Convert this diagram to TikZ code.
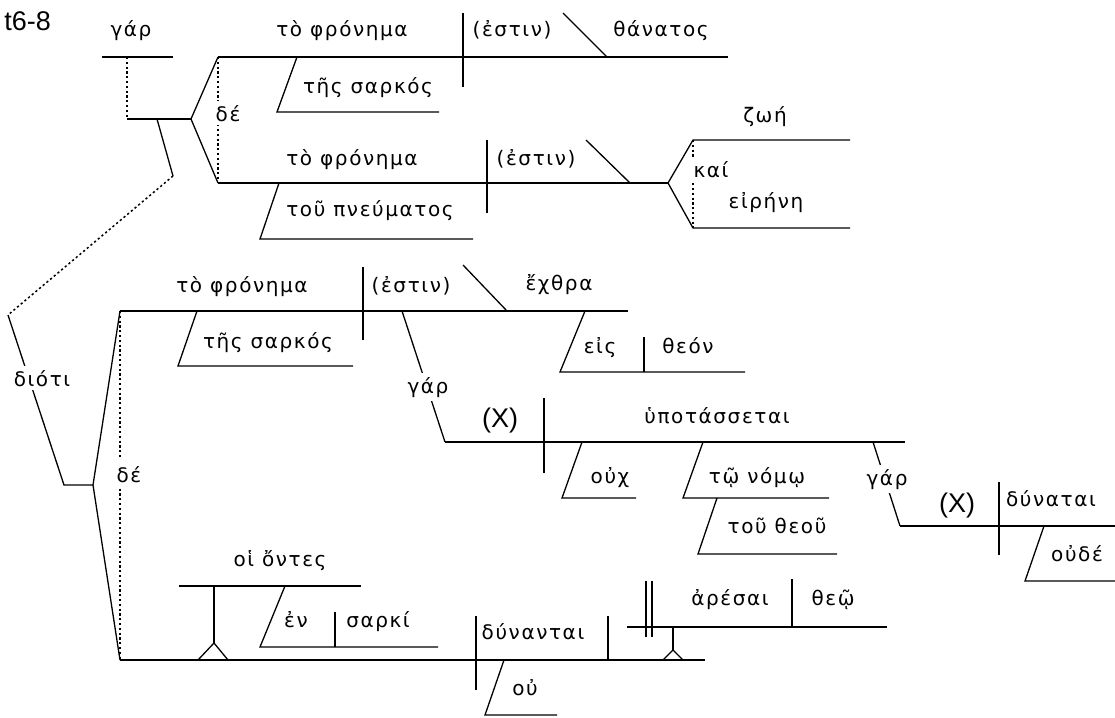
\documentclass[tikz,border=0pt]{standalone}
\usepackage{fontspec}
\setmainfont{DejaVu Sans}
\newfontfamily\gkf[LetterSpace=8]{DejaVu Sans}
\newfontfamily\arialf{Liberation Sans}
\begin{document}
\begin{tikzpicture}[x=1pt,y=-1pt,
  ln/.style={line width=1.3pt},
  dt/.style={line width=1.5pt, dash pattern=on 2.2pt off 2.6pt},
  gk/.style={font=\gkf\fontsize{20}{24}\selectfont, anchor=base, inner sep=0pt},
  lab/.style={gk, fill=white, inner sep=4pt},
  xx/.style={font=\arialf\fontsize{27}{30}\selectfont, anchor=base, inner sep=0pt}]
\useasboundingbox (0,0) rectangle (1115,717);
\node[xx, anchor=base east] (ref) at (51,31) {t6-8};

% ---------- top: gar + compound (de) ----------
\draw[ln] (102,57) -- (173,57);
\draw[dt] (127,57) -- (127,119);
\draw[ln] (127,119) coordinate (gj) -- (191,119) coordinate (dj);
\draw[ln] (218,57) coordinate (c1) -- (dj) -- (218,183) coordinate (c2);
\draw[dt] (c1) -- (c2);
\node[lab] (de1) at (228,121) {δέ};
\node[gk] (gar1) at (131,37) {γάρ};

% clause 1
\draw[ln] (c1) -- (728,57);
\draw[ln] (463,13) -- (463,87);
\draw[ln] (563,13) -- (607,57);
\draw[ln] (297,57) -- (277,112) -- (439,112);
\node[gk] (s1) at (342,37) {τὸ φρόνημα};
\node[gk] (v1) at (512,37) {(ἐστιν)};
\node[gk] (p1) at (661,37) {θάνατος};
\node[gk] (m1) at (368,93) {τῆς σαρκός};

% clause 2
\draw[ln] (c2) -- (668,183) coordinate (kj);
\draw[ln] (487,140) -- (487,213);
\draw[ln] (586,140) -- (630,183);
\draw[ln] (279,183) -- (260,239) -- (473,239);
\node[gk] (s2) at (352,165) {τὸ φρόνημα};
\node[gk] (v2) at (536,165) {(ἐστιν)};
\node[gk] (m2) at (370,216) {τοῦ πνεύματος};

% compound predicate
\draw[ln] (850,140) -- (693,140) coordinate (k1) -- (kj) -- (693,228) coordinate (k2) -- (850,228);
\draw[dt] (k1) -- (k2);
\node[lab] (kai) at (711,177) {καί};
\node[gk] (zoe) at (765,122) {ζωή};
\node[gk] (eir) at (766,208) {εἰρήνη};

% dioti connector
\draw[ln] (157,119) -- (173,176) coordinate (d0);
\draw[dt] (d0) -- (8,315) coordinate (d1);
\draw[ln] (d1) -- (64,485) -- (93,485) coordinate (dj2);
\node[lab] (dioti) at (42,386) {διότι};

% ---------- lower compound (de) ----------
\draw[ln] (120,311) coordinate (c3) -- (dj2) -- (120,660) coordinate (c4);
\draw[dt] (c3) -- (c4);
\node[lab, inner sep=6pt] (de2) at (129,482) {δέ};

% clause 3
\draw[ln] (c3) -- (628,311);
\draw[ln] (363,267) -- (363,340);
\draw[ln] (463,265) -- (507,311);
\draw[ln] (197,311) -- (178,366) -- (353,366);
\draw[ln] (585,311) -- (560,372) -- (745,372);
\draw[ln] (644,337) -- (644,372);
\node[gk] (s3) at (242,292) {τὸ φρόνημα};
\node[gk] (v3) at (411,292) {(ἐστιν)};
\node[gk] (p3) at (559,290) {ἔχθρα};
\node[gk] (m3) at (268,348) {τῆς σαρκός};
\node[gk] (eis) at (600,353) {εἰς};
\node[gk] (theon) at (688,353) {θεόν};

% gar -> clause 4
\draw[ln] (402,311) -- (445,442) coordinate (c5);
\node[lab] (gar2) at (428,393) {γάρ};

% clause 4
\draw[ln] (c5) -- (905,442);
\draw[ln] (544,398) -- (544,473);
\draw[ln] (582,442) -- (562,498) -- (636,498);
\draw[ln] (703,442) -- (683,498) -- (829,498);
\draw[ln] (717,498) -- (698,554) -- (837,554);
\node[xx] (x1) at (500,427) {(X)};
\node[gk] (v4) at (717,423) {ὑποτάσσεται};
\node[gk] (oux) at (610,483) {οὐχ};
\node[gk] (nomo) at (757,483) {τῷ νόμῳ};
\node[gk] (theou) at (777,533) {τοῦ θεοῦ};

% gar -> clause 5
\draw[ln] (873,442) -- (900,526) coordinate (c6);
\node[lab] (gar3) at (887,485) {γάρ};

% clause 5
\draw[ln] (c6) -- (1115,526);
\draw[ln] (999,482) -- (999,555);
\draw[ln] (1044,526) -- (1025,581) -- (1115,581);
\node[xx] (x2) at (957,512) {(X)};
\node[gk] (v5) at (1051,506) {δύναται};
\node[gk] (oude) at (1077,561) {οὐδέ};

% clause 6
\draw[ln] (c4) -- (705,660);
\draw[ln] (179,586) -- (361,586);
\draw[ln] (214,586) -- (214,643);
\draw[ln] (198,660) -- (214,643) -- (228,660);
\draw[ln] (285,586) -- (260,647) -- (438,647);
\draw[ln] (335,612) -- (335,647);
\draw[ln] (476,616) -- (476,690);
\draw[ln] (608,616) -- (608,660);
\draw[ln] (673,627) -- (673,650);
\draw[ln] (663,660) -- (673,650) -- (683,660);
\draw[ln] (627,627) -- (887,627);
\draw[ln] (646,581) -- (646,637);
\draw[ln] (652,581) -- (652,637);
\draw[ln] (792,579) -- (792,627);
\draw[ln] (504,660) -- (485,715) -- (557,715);
\node[gk] (ontes) at (280,566) {οἱ ὄντες};
\node[gk] (en) at (296,627) {ἐν};
\node[gk] (sarki) at (378,627) {σαρκί};
\node[gk] (v6) at (533,639) {δύνανται};
\node[gk] (aresai) at (730,605) {ἀρέσαι};
\node[gk] (theo) at (833,605) {θεῷ};
\node[gk] (ou) at (525,695) {οὐ};
\end{tikzpicture}
\end{document}
